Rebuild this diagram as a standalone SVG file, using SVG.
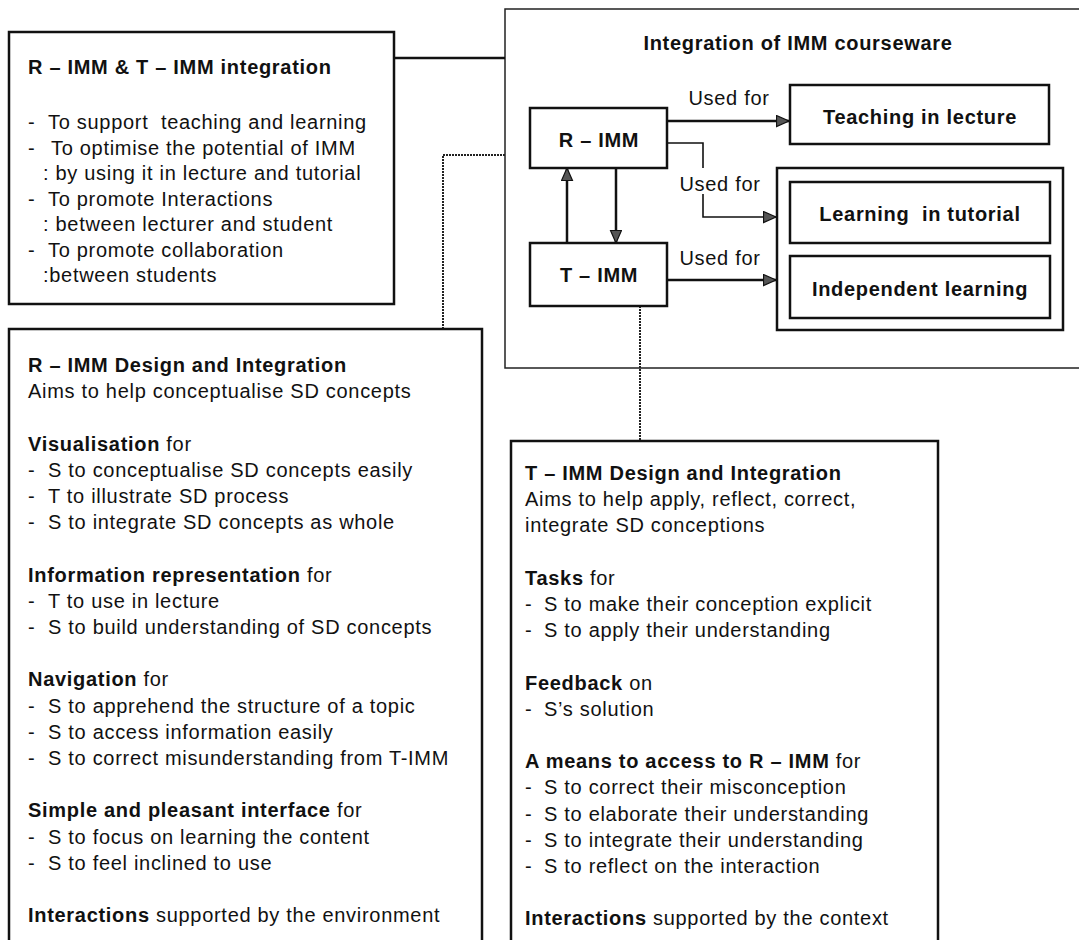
<svg xmlns="http://www.w3.org/2000/svg" width="1079" height="940" viewBox="0 0 1079 940">
  <style>
    text { font-family: "Liberation Sans", Arial, sans-serif; font-size: 20px; letter-spacing: 0.7px; fill: #111; }
    .b { font-weight: bold; }
    .mid { text-anchor: middle; }
    .box { fill: #fff; stroke: #111; stroke-width: 2.5; }
    .frame { fill: none; stroke: #222; stroke-width: 1.5; }
    .wire { fill: none; stroke: #111; stroke-width: 2.5; }
    .thin { fill: none; stroke: #111; stroke-width: 1.6; }
    .dot { fill: none; stroke: #222; stroke-width: 2; stroke-dasharray: 2 1; }
  </style>
  <defs>
    <marker id="head" markerUnits="userSpaceOnUse" markerWidth="15" markerHeight="14" refX="13" refY="6" orient="auto">
      <path d="M0.5,0.5 L13,6 L0.5,11.5 z" fill="#555" stroke="#111" stroke-width="1.2"/>
    </marker>
  </defs>

  <rect width="1079" height="940" fill="#fff"/>

  <!-- container: Integration of IMM courseware -->
  <g id="courseware">
    <rect class="frame" x="505" y="9" width="600" height="359"/>
    <text class="b mid" x="798" y="50">Integration of IMM courseware</text>
  </g>

  <g id="connectors">
    <!-- overview box to courseware -->
    <polyline class="wire" points="394,58 505,58"/>
    <!-- R-IMM design box to courseware -->
    <polyline class="dot" points="443,329 443,155 505,155"/>
    <!-- T-IMM to T-IMM design box -->
    <polyline class="dot" points="640,306 640,441"/>
    <!-- R-IMM used for teaching -->
    <line class="wire" x1="667" y1="121" x2="789" y2="121" marker-end="url(#head)"/>
    <!-- R-IMM used for learning (elbow, broken by label) -->
    <polyline class="thin" points="667,143 703,143 703,168"/>
    <polyline class="thin" points="703,194 703,217 776,217" marker-end="url(#head)"/>
    <!-- T-IMM used for learning -->
    <line class="wire" x1="667" y1="280" x2="776" y2="280" marker-end="url(#head)"/>
    <!-- T-IMM to R-IMM and back -->
    <line class="wire" x1="567" y1="243" x2="567" y2="168" marker-end="url(#head)"/>
    <line class="wire" x1="616" y1="168" x2="616" y2="243" marker-end="url(#head)"/>
    <text class="mid" x="729" y="105">Used for</text>
    <text class="mid" x="720" y="191">Used for</text>
    <text class="mid" x="720" y="265">Used for</text>
  </g>

  <g id="r-imm">
    <rect class="box" x="530" y="108" width="137" height="60"/>
    <text class="b mid" x="599" y="147">R – IMM</text>
  </g>

  <g id="t-imm">
    <rect class="box" x="530" y="243" width="137" height="63"/>
    <text class="b mid" x="599" y="282">T – IMM</text>
  </g>

  <g id="teaching">
    <rect class="box" x="790" y="85" width="259" height="59"/>
    <text class="b mid" x="920" y="124">Teaching in lecture</text>
  </g>

  <g id="learning-group">
    <rect class="box" x="777" y="168" width="286" height="162"/>
  </g>

  <g id="tutorial">
    <rect class="box" x="790" y="182" width="260" height="61"/>
    <text class="b mid" x="920" y="221" xml:space="preserve">Learning  in tutorial</text>
  </g>

  <g id="independent">
    <rect class="box" x="790" y="256" width="260" height="62"/>
    <text class="b mid" x="920" y="296">Independent learning</text>
  </g>

  <!-- overview of the two components -->
  <g id="integration">
    <rect class="box" x="9" y="32" width="385" height="272"/>
    <text class="b" x="28" y="74">R – IMM &amp; T – IMM integration</text>
    <text x="28" y="129">-</text><text x="48" y="129" xml:space="preserve">To support  teaching and learning</text>
    <text x="28" y="154.5">-</text><text x="51" y="154.5">To optimise the potential of IMM</text>
    <text x="43" y="180">: by using it in lecture and tutorial</text>
    <text x="28" y="205.5">-</text><text x="48" y="205.5">To promote Interactions</text>
    <text x="43" y="231">: between lecturer and student</text>
    <text x="28" y="256.5">-</text><text x="48" y="256.5">To promote collaboration</text>
    <text x="43" y="282">:between students</text>
  </g>

  <!-- R-IMM design details -->
  <g id="r-imm-design">
    <rect class="box" x="9" y="329" width="473" height="640"/>
    <text class="b" x="28" y="372">R – IMM Design and Integration</text>
    <text x="28" y="398.2">Aims to help conceptualise SD concepts</text>
    <text x="28" y="450.6"><tspan class="b">Visualisation</tspan> for</text>
    <text x="28" y="476.8">-</text><text x="48" y="476.8">S to conceptualise SD concepts easily</text>
    <text x="28" y="503">-</text><text x="48" y="503">T to illustrate SD process</text>
    <text x="28" y="529.2">-</text><text x="48" y="529.2">S to integrate SD concepts as whole</text>
    <text x="28" y="581.6"><tspan class="b">Information representation</tspan> for</text>
    <text x="28" y="607.8">-</text><text x="48" y="607.8">T to use in lecture</text>
    <text x="28" y="634">-</text><text x="48" y="634">S to build understanding of SD concepts</text>
    <text x="28" y="686.4"><tspan class="b">Navigation</tspan> for</text>
    <text x="28" y="712.6">-</text><text x="48" y="712.6">S to apprehend the structure of a topic</text>
    <text x="28" y="738.8">-</text><text x="48" y="738.8">S to access information easily</text>
    <text x="28" y="765">-</text><text x="48" y="765">S to correct misunderstanding from T-IMM</text>
    <text x="28" y="817.4"><tspan class="b">Simple and pleasant interface</tspan> for</text>
    <text x="28" y="843.6">-</text><text x="48" y="843.6">S to focus on learning the content</text>
    <text x="28" y="869.8">-</text><text x="48" y="869.8">S to feel inclined to use</text>
    <text x="28" y="922.2"><tspan class="b">Interactions</tspan> supported by the environment</text>
  </g>

  <!-- T-IMM design details -->
  <g id="t-imm-design">
    <rect class="box" x="511" y="441" width="427" height="540"/>
    <text class="b" x="525" y="480">T – IMM Design and Integration</text>
    <text x="525" y="506.2">Aims to help apply, reflect, correct,</text>
    <text x="525" y="532.4">integrate SD conceptions</text>
    <text x="525" y="584.8"><tspan class="b">Tasks</tspan> for</text>
    <text x="525" y="611">-</text><text x="544" y="611">S to make their conception explicit</text>
    <text x="525" y="637.2">-</text><text x="544" y="637.2">S to apply their understanding</text>
    <text x="525" y="689.6"><tspan class="b">Feedback</tspan> on</text>
    <text x="525" y="715.8">-</text><text x="544" y="715.8">S’s solution</text>
    <text x="525" y="768.2"><tspan class="b">A means to access to R – IMM</tspan> for</text>
    <text x="525" y="794.4">-</text><text x="544" y="794.4">S to correct their misconception</text>
    <text x="525" y="820.6">-</text><text x="544" y="820.6">S to elaborate their understanding</text>
    <text x="525" y="846.8">-</text><text x="544" y="846.8">S to integrate their understanding</text>
    <text x="525" y="873">-</text><text x="544" y="873">S to reflect on the interaction</text>
    <text x="525" y="925.4"><tspan class="b">Interactions</tspan> supported by the context</text>
  </g>
</svg>
